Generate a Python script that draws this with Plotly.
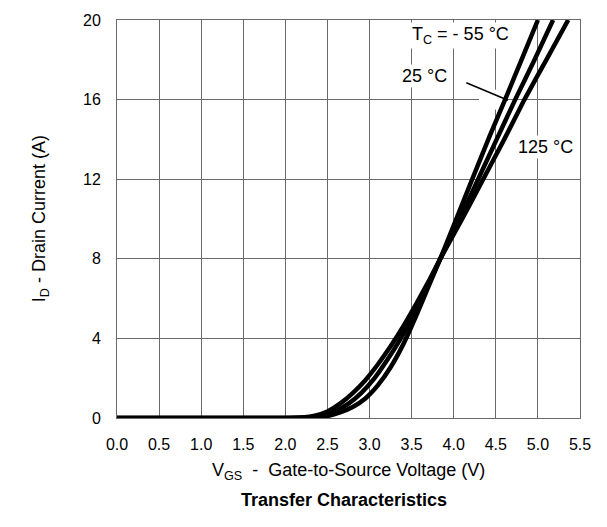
import plotly.graph_objects as go

# Transfer characteristics: V_GS (V) vs I_D (A) at three case temperatures
v_m55 = [0, 0.5, 1.0, 1.5, 2.0, 2.3, 2.5, 2.65, 2.8, 2.95, 3.1, 3.25, 3.4, 3.55, 3.7, 3.84, 4.03, 4.22, 4.43, 4.62, 4.81, 5.00]
i_m55 = [0, 0, 0, 0, 0, 0.02, 0.1, 0.28, 0.55, 0.98, 1.65, 2.55, 3.7, 5.1, 6.6, 8.0, 10.0, 12.0, 14.2, 16.1, 18.05, 20.0]

v_25 = [0, 0.5, 1.0, 1.5, 2.0, 2.25, 2.45, 2.6, 2.75, 2.9, 3.05, 3.2, 3.35, 3.5, 3.67, 3.84, 4.07, 4.29, 4.51, 4.73, 4.96, 5.18]
i_25 = [0, 0, 0, 0, 0, 0.02, 0.12, 0.35, 0.72, 1.25, 1.95, 2.85, 3.85, 5.0, 6.45, 8.0, 10.0, 12.0, 14.0, 16.0, 18.0, 20.0]

v_125 = [0, 0.5, 1.0, 1.5, 2.0, 2.2, 2.35, 2.5, 2.65, 2.8, 2.95, 3.1, 3.25, 3.4, 3.55, 3.7, 3.84, 4.1, 4.35, 4.6, 4.84, 5.1, 5.36]
i_125 = [0, 0, 0, 0, 0, 0.03, 0.12, 0.33, 0.72, 1.25, 1.9, 2.7, 3.6, 4.6, 5.7, 6.85, 8.0, 10.0, 12.0, 14.0, 16.0, 18.0, 20.0]

x_ticks = [0.0, 0.5, 1.0, 1.5, 2.0, 2.5, 3.0, 3.5, 4.0, 4.5, 5.0, 5.5]
x_tick_labels = ["0.0", "0.5", "1.0", "1.5", "2.0", "2.5", "3.0", "3.5", "4.0", "4.5", "5.0", "5.5"]
y_ticks = [0, 4, 8, 12, 16, 20]
y_tick_labels = ["0", "4", "8", "12", "16", "20"]

FONT = "Liberation Sans, Arial, Helvetica, sans-serif"
GRID = "#6a6a6a"

fig = go.Figure()
for vx, iy, name in [(v_125, i_125, "125 °C"), (v_25, i_25, "25 °C"), (v_m55, i_m55, "-55 °C")]:
    fig.add_trace(go.Scatter(
        x=vx, y=iy, mode="lines", name=name,
        line=dict(color="black", width=4.5, shape="spline", smoothing=0.5),
        showlegend=False, hoverinfo="skip",
    ))

fig.update_layout(
    width=607, height=527,
    margin=dict(l=117, r=27, t=16, b=109),
    paper_bgcolor="white", plot_bgcolor="white",
    font=dict(family=FONT, size=16, color="black"),
    showlegend=False,
)
fig.update_xaxes(
    range=[0, 5.5], tickvals=x_ticks, ticktext=x_tick_labels,
    showgrid=True, gridcolor=GRID, gridwidth=1,
    showline=True, linecolor=GRID, linewidth=1, mirror=True,
    ticks="", ticklabelstandoff=12, zeroline=False,
    tickfont=dict(size=16),
)
fig.update_yaxes(
    range=[0, 20], tickvals=y_ticks, ticktext=y_tick_labels,
    showgrid=True, gridcolor=GRID, gridwidth=1,
    showline=True, linecolor=GRID, linewidth=1, mirror=True,
    ticks="", ticklabelstandoff=12, zeroline=False,
    tickfont=dict(size=16),
)

# white patch under pointer end (covers grid between grid and traces)
fig.add_shape(type="rect", xref="x", yref="y", x0=4.3, x1=4.62, y0=15.5, y1=16.5,
              fillcolor="white", line=dict(width=0), layer="between")

fig.add_shape(type="line", xref="x", yref="y", x0=4.15, y0=16.85, x1=4.645, y1=15.97,
              line=dict(color="black", width=1.5))

fig.add_annotation(x=4.075, y=19.2, xref="x", yref="y", showarrow=False,
                   text="T<sub>C</sub> = - 55 °C", font=dict(size=18),
                   bgcolor="white", borderpad=1)
fig.add_annotation(x=3.647, y=17.19, xref="x", yref="y", showarrow=False,
                   text="25 °C", font=dict(size=18), bgcolor="white", borderpad=1)
fig.add_annotation(x=5.09, y=13.6, xref="x", yref="y", showarrow=False,
                   text="125 °C", font=dict(size=18), bgcolor="white", borderpad=1)

fig.add_annotation(x=-0.195, y=0.5, xref="paper", yref="paper", showarrow=False,
                   text="I<sub>D</sub> - Drain Current (A)", textangle=-90,
                   font=dict(size=18))
fig.add_annotation(x=0.5, y=-0.135, xref="paper", yref="paper", showarrow=False,
                   text="V<sub>GS</sub>  -  Gate-to-Source Voltage (V)",
                   font=dict(size=18), xanchor="center", yanchor="middle")
fig.add_annotation(x=0.49, y=-0.205, xref="paper", yref="paper", showarrow=False,
                   text="<b>Transfer Characteristics</b>",
                   font=dict(size=18), xanchor="center", yanchor="middle")

fig.write_html("out.html")
